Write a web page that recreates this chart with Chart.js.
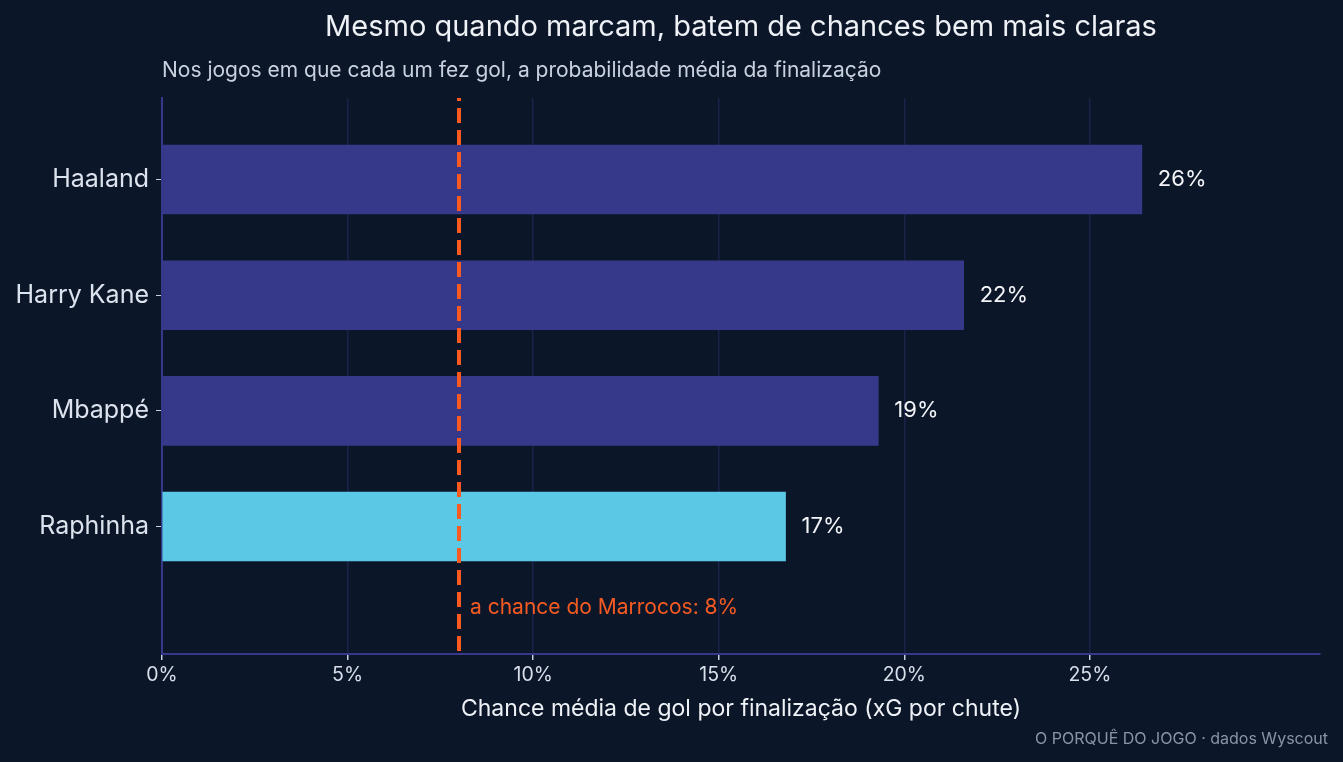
<!DOCTYPE html>
<html>
<head>
<meta charset="utf-8">
<script src="https://cdn.jsdelivr.net/npm/chart.js@4"></script>
<style>
  html, body { margin: 0; padding: 0; background: #0b1628; }
  #wrap { width: 1343px; height: 762px; position: relative; }
</style>
</head>
<body>
<div id="wrap"><canvas id="c" width="1343" height="762"></canvas></div>
<script>
const players = ['Haaland', 'Harry Kane', 'Mbappé', 'Raphinha'];
const xgPerShot = [26.4, 21.6, 19.3, 16.8];
const barColors = ['#363889', '#363889', '#363889', '#5bc9e6'];
const xTicks = [0, 5, 10, 15, 20, 25];
const moroccoChance = 8;
const titleText = 'Mesmo quando marcam, batem de chances bem mais claras';
const subtitleText = 'Nos jogos em que cada um fez gol, a probabilidade média da finalização';
const xAxisTitle = 'Chance média de gol por finalização (xG por chute)';
const footerText = 'O PORQUÊ DO JOGO · dados Wyscout';
const refLabel = 'a chance do Marrocos: 8%';

const FONT = 'Inter, "Noto Sans", sans-serif';

const overlay = {
  id: 'overlay',
  beforeDraw(chart) {
    const ctx = chart.ctx;
    ctx.save();
    ctx.fillStyle = '#0b1628';
    ctx.fillRect(0, 0, chart.width, chart.height);
    ctx.restore();
  },
  afterDatasetsDraw(chart) {
    const ctx = chart.ctx;
    const xs = chart.scales.x, ys = chart.scales.y;
    const area = chart.chartArea;
    ctx.save();
    // value labels
    ctx.font = '22px ' + FONT;
    ctx.fillStyle = '#f2f4f8';
    ctx.textAlign = 'left';
    ctx.textBaseline = 'middle';
    xgPerShot.forEach((v, i) => {
      ctx.fillText(Math.round(v) + '%', xs.getPixelForValue(v) + 16, ys.getPixelForValue(i));
    });
    // reference line
    const rx = Math.round(xs.getPixelForValue(moroccoChance));
    ctx.strokeStyle = '#fa5a1f';
    ctx.lineWidth = 4;
    ctx.setLineDash([15, 7]);
    ctx.lineDashOffset = 12;
    ctx.beginPath();
    ctx.moveTo(rx, area.top);
    ctx.lineTo(rx, area.bottom);
    ctx.stroke();
    ctx.setLineDash([]);
    ctx.font = '21px ' + FONT;
    ctx.fillStyle = '#f55a22';
    ctx.fillText(refLabel, rx + 11, 608);
    // titles
    ctx.textAlign = 'center';
    ctx.fillStyle = '#eef1f6';
    ctx.font = '29px ' + FONT;
    ctx.fillText(titleText, (area.left + area.right) / 2, 27);
    ctx.textAlign = 'left';
    ctx.fillStyle = '#c9d1df';
    ctx.font = '21px ' + FONT;
    ctx.fillText(subtitleText, area.left, 71);
    ctx.textAlign = 'center';
    ctx.fillStyle = '#eef1f6';
    ctx.font = '23px ' + FONT;
    ctx.fillText(xAxisTitle, (area.left + area.right) / 2, 709);
    ctx.textAlign = 'right';
    ctx.fillStyle = '#8b94a7';
    ctx.font = '16px ' + FONT;
    ctx.fillText(footerText, 1328, 739);
    ctx.restore();
  }
};

new Chart(document.getElementById('c'), {
  type: 'bar',
  data: {
    datasets: [{
      data: players.map((p, i) => ({ x: xgPerShot[i], y: i })),
      backgroundColor: barColors,
      borderWidth: 0,
      barThickness: 69
    }]
  },
  options: {
    indexAxis: 'y',
    responsive: false,
    animation: false,
    layout: { padding: { top: 98, right: 23, bottom: 0, left: 0 } },
    plugins: { legend: { display: false }, tooltip: { enabled: false }, title: { display: false } },
    scales: {
      x: {
        type: 'linear',
        min: 0,
        max: 31.2,
        afterBuildTicks(scale) { scale.ticks = xTicks.map(v => ({ value: v })); },
        afterFit(scale) { scale.height = 108; },
        ticks: {
          callback: v => v + '%',
          color: '#d9dfea',
          font: { family: FONT, size: 19.5 },
          padding: 3,
          maxRotation: 0
        },
        grid: { color: '#1b2148', lineWidth: 1.5, tickColor: '#c8d0e0', tickLength: 6 },
        border: { color: '#363889', width: 2 }
      },
      y: {
        type: 'linear',
        reverse: true,
        offset: false,
        min: -0.705,
        max: 4.102,
        afterBuildTicks(scale) { scale.ticks = players.map((p, i) => ({ value: i })); },
        afterFit(scale) { scale.width = 162; },
        ticks: {
          callback: v => players[v],
          color: '#dde3ee',
          font: { family: FONT, size: 25 },
          padding: 7
        },
        grid: { drawOnChartArea: false, offset: false, tickColor: '#c8d0e0', tickLength: 6 },
        border: { color: '#363889', width: 2 }
      }
    }
  },
  plugins: [overlay]
});
</script>
</body>
</html>
